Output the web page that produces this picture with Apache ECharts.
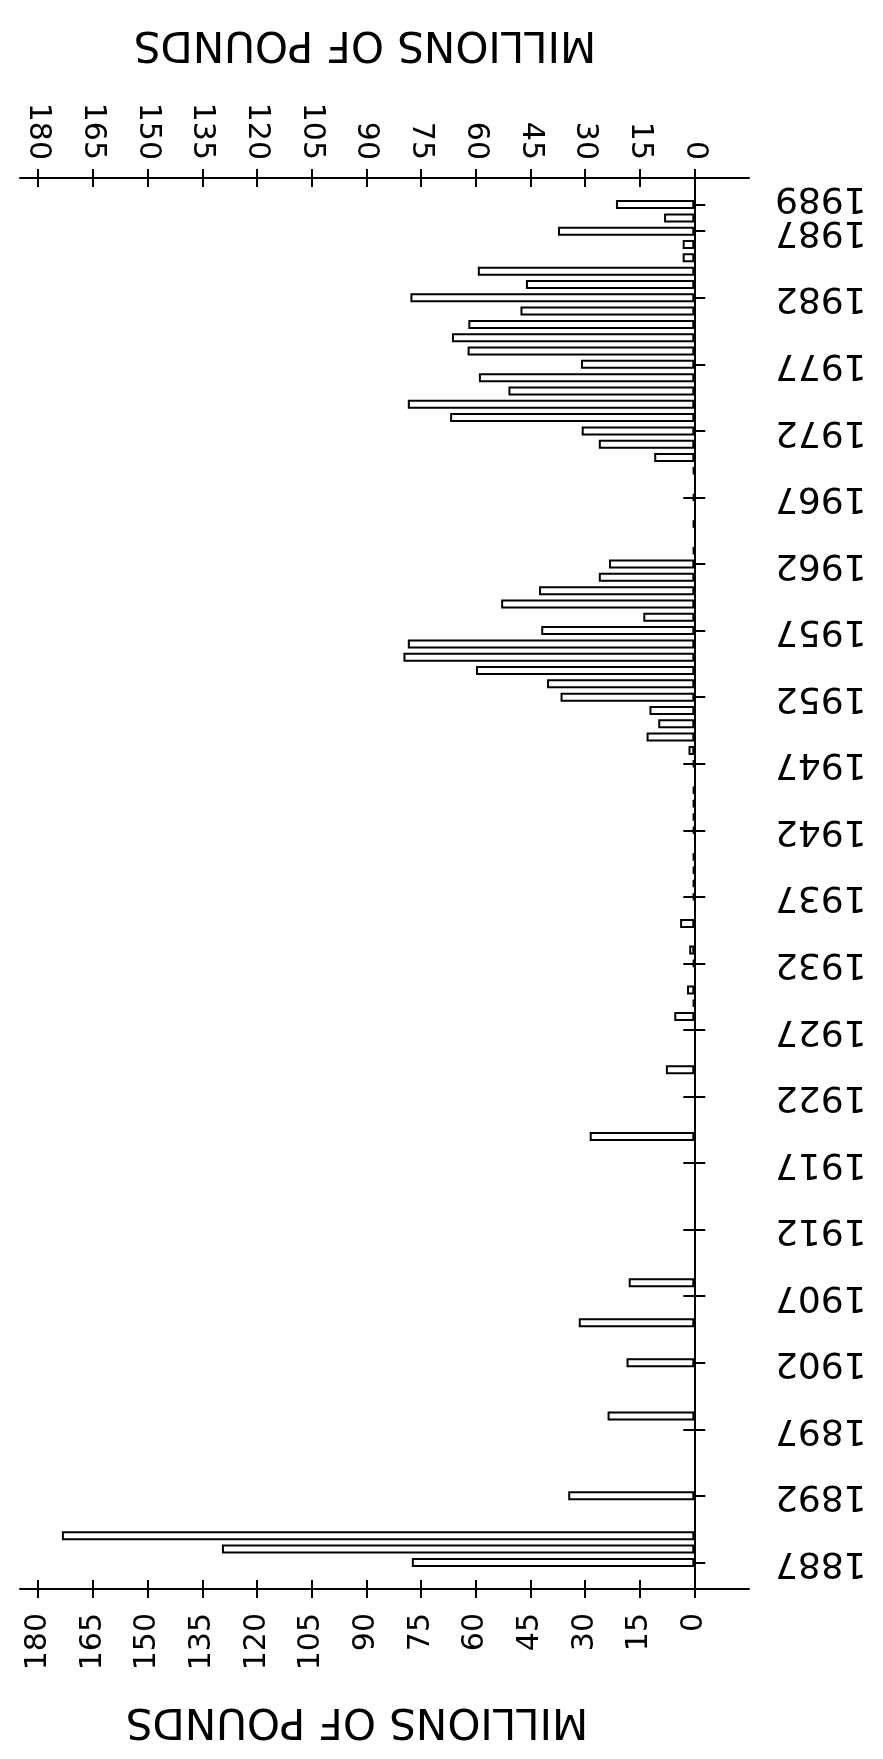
<!DOCTYPE html>
<html>
<head>
<meta charset="utf-8">
<script src="https://cdn.jsdelivr.net/npm/echarts@6/dist/echarts.min.js"></script>
<style>
html,body{margin:0;padding:0;background:#fff;}
#chart{width:883px;height:1759px;}
</style>
</head>
<body>
<div id="chart"></div>
<script>
// Years shown on the category axis (one bar slot per year)
const years = [
  1887,1888,1889,1890,1891,1892,1893,1894,1895,1896,
  1897,1898,1899,1900,1901,1902,1903,1904,1905,1906,
  1907,1908,1909,1910,1911,1912,1913,1914,1915,1916,
  1917,1918,1919,1920,1921,1922,1923,1924,1925,1926,
  1927,1928,1929,1930,1931,1932,1933,1934,1935,1936,
  1937,1938,1939,1940,1941,1942,1943,1944,1945,1946,
  1947,1948,1949,1950,1951,1952,1953,1954,1955,1956,
  1957,1958,1959,1960,1961,1962,1963,1964,1965,1966,
  1967,1968,1969,1970,1971,1972,1973,1974,1975,1976,
  1977,1978,1979,1980,1981,1982,1983,1984,1985,1986,
  1987,1988,1989
];
// Millions of pounds per year (0 = no bar)
const pounds = [
  77.5,129.6,173.5,0,0,34.6,0,0,0,0,
  0,23.8,0,0,0,18.6,0,0,31.7,0,
  0,18.0,0,0,0,0,0,0,0,0,
  0,0,28.7,0,0,0,0,7.8,0,0,
  0,5.5,0.4,2.0,0,0.4,1.4,0,3.9,0,
  0.4,0.4,0.4,0.4,0,0.4,0.4,0.4,0.4,0,
  0.4,1.6,13.1,9.9,12.3,36.7,40.4,59.9,79.8,78.6,
  42.0,14.0,53.0,42.6,26.2,23.4,0.4,0,0.4,0,
  0.4,0,0.4,11.0,26.2,30.9,67.0,78.6,51.0,59.1,
  31.1,62.2,66.5,62.0,47.7,77.9,46.2,59.4,3.2,3.2,
  37.4,8.3,21.5
];
// Labelled years on the category axis
const tickYears = [1887,1892,1897,1902,1907,1912,1917,1922,1927,1932,1937,1942,1947,1952,1957,1962,1967,1972,1977,1982,1987,1989];
// Value-axis tick labels
const valueTicks = [0,15,30,45,60,75,90,105,120,135,150,165,180];
const axisTitle = 'MILLIONS OF POUNDS';

const padBefore = ['1885','1886'];
const padAfter = ['1990','1991'];
const categories = padBefore.concat(years.map(String), padAfter);
const barData = [null,null].concat(pounds.map(v => v === 0 ? '-' : v), [null,null]);
const tickSet = new Set(tickYears.map(String));
const lastYear = String(tickYears[tickYears.length - 1]);
const showYear = (i, v) => tickSet.has(String(v));
// the last label sits close to its neighbour, so it is drawn by the overlay axis
const showYearMain = (i, v) => tickSet.has(String(v)) && String(v) !== lastYear;
const showYearLast = (i, v) => String(v) === lastYear;

const FONT = '"DejaVu Sans", sans-serif';
const LINE = {color:'#000', width:2};

function valueAxis(pos, withLabels, inside) {
  return {
    type:'value', position:pos, inverse:true, min:-15, max:185,
    splitLine:{show:false},
    axisLine:{show:withLabels, onZero:false, lineStyle:LINE},
    axisTick:{show:true, inside:inside, length:9, lineStyle:LINE, customValues:valueTicks},
    axisLabel:{show:withLabels, customValues:valueTicks, rotate:90, fontSize:30, fontFamily:FONT,
               color:'#000', hideOverlap:false, margin: pos==='bottom'?24:18}
  };
}

const chart = echarts.init(document.getElementById('chart'), null, {renderer:'canvas'});
chart.setOption({
  backgroundColor:'#fff',
  animation:false,
  grid:{left:20, top:178, width:729, height:1411, containLabel:false},
  xAxis:[
    valueAxis('bottom', true, false),
    valueAxis('bottom', false, true),
    valueAxis('top', true, false),
    valueAxis('top', false, true)
  ],
  yAxis:[
    {
      type:'category', position:'right', data:categories, boundaryGap:false,
      axisLine:{show:true, lineStyle:LINE},
      axisTick:{show:true, interval:showYearMain, length:11, lineStyle:LINE},
      axisLabel:{show:true, interval:showYearMain, rotate:180, fontSize:36, fontFamily:FONT, color:'#000',
                 margin:26, hideOverlap:false},
      splitLine:{show:false}
    },
    {
      type:'category', position:'right', data:categories, boundaryGap:false,
      axisLine:{show:false},
      axisTick:{show:true, interval:showYearLast, length:11, lineStyle:LINE},
      axisLabel:{show:true, interval:showYearLast, rotate:180, fontSize:36, fontFamily:FONT, color:'#000',
                 margin:26, hideOverlap:false, lineHeight:14, formatter:(v) => '\n' + v},
      splitLine:{show:false}
    },
    {
      type:'category', position:'right', data:categories, boundaryGap:false,
      axisLine:{show:false},
      axisTick:{show:true, inside:true, interval:showYear, length:11, lineStyle:LINE},
      axisLabel:{show:false}, splitLine:{show:false}
    },
    {
      type:'category', position:'left', data:categories, boundaryGap:false,
      axisLine:{show:true, lineStyle:LINE},
      axisTick:{show:false}, axisLabel:{show:false}, splitLine:{show:false}
    }
  ],
  series:[{
    type:'bar', xAxisIndex:0, yAxisIndex:0, data:barData, barWidth:9,
    itemStyle:{color:'#fff', borderColor:'#000', borderWidth:2}
  }],
  graphic:[
    {type:'text', x:365, y:43, rotation:Math.PI,
     style:{text:axisTitle, font:'42px "DejaVu Sans"', fill:'#000', align:'center', verticalAlign:'middle'}},
    {type:'text', x:357, y:1720, rotation:Math.PI,
     style:{text:axisTitle, font:'42px "DejaVu Sans"', fill:'#000', align:'center', verticalAlign:'middle'}}
  ]
});
</script>
</body>
</html>
